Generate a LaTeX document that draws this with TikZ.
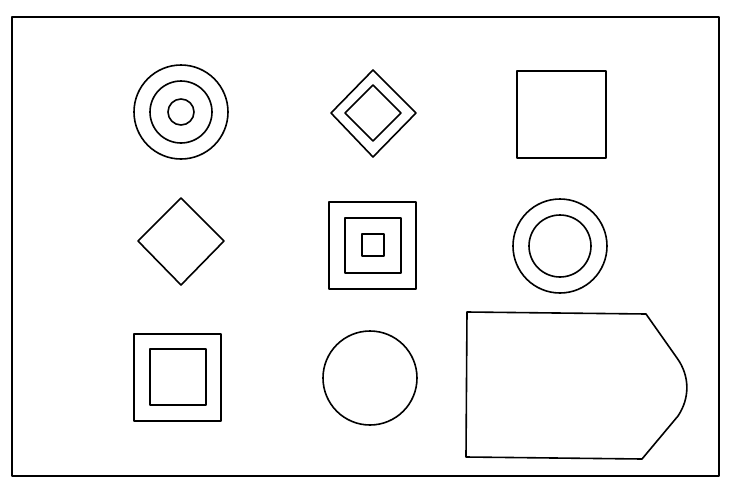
\documentclass[tikz,border=0pt]{standalone}
\usepackage{tikz}

\begin{document}
\begin{tikzpicture}[
    x=1pt, y=-1pt,
    outline/.style={draw, line width=1.6pt, line join=round},
]
\useasboundingbox (0,0) rectangle (732,493);
% frame
\draw[outline] (12,17) rectangle (719,476);

% row 1
\draw[outline] (181,112) circle (47);
\draw[outline] (181,112) circle (31);
\draw[outline] (181,112) circle (13);
\draw[outline] (373,70) -- (416,113) -- (373,157) -- (331,113) -- cycle;
\draw[outline] (373,85) -- (401,113) -- (373,141) -- (345,113) -- cycle;
\draw[outline] (517,71) rectangle (606,158);

% row 2
\draw[outline] (181,198) -- (224,241) -- (181,285) -- (138,241) -- cycle;
\draw[outline] (329,202) rectangle (416,289);
\draw[outline] (345,218) rectangle (401,273);
\draw[outline] (362,234) rectangle (384,256);
\draw[outline] (560,246) circle (47);
\draw[outline] (560,246) circle (31);

% row 3
\draw[outline] (134,334) rectangle (221,421);
\draw[outline] (150,349) rectangle (206,405);
\draw[outline] (370,378) circle (47);
\draw[outline] (467,312) -- (646,314) -- (677,358)
    .. controls (690,376) and (690,398) .. (678,416)
    -- (642,459) -- (466,457) -- cycle;
\end{tikzpicture}
\end{document}
